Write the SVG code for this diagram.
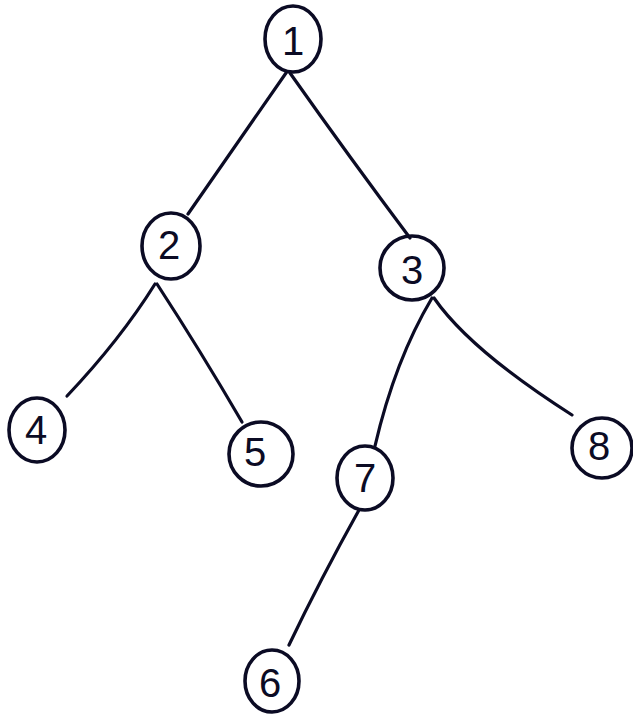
<svg xmlns="http://www.w3.org/2000/svg" width="633" height="716" viewBox="0 0 633 716">
<style>
.n{fill:none;stroke:#0b0b24;stroke-width:3.6}
.e{fill:none;stroke:#0b0b24;stroke-width:3.2;stroke-linecap:round}
.t{font-family:"Liberation Sans",Arial,sans-serif;font-size:40px;fill:#0b0b24;text-anchor:middle;dominant-baseline:central}
</style>
<rect width="633" height="716" fill="#fff"/>
<g id="connectors">
<path class="e" d="M286,73 L188,214"/>
<path class="e" d="M290,73 Q350,158 410,238"/>
<path class="e" d="M155,284 Q120,340 67,396"/>
<path class="e" d="M157,284 Q200,350 242,422"/>
<path class="e" d="M432,298 Q395,360 375,446"/>
<path class="e" d="M434,298 Q470,350 572,415"/>
<path class="e" d="M359,510 Q320,580 289,645"/>
</g>
<g id="node1"><ellipse class="n" cx="293" cy="39" rx="28" ry="33"/><text class="t" x="293" y="41">1</text></g>
<g id="node2"><ellipse class="n" cx="171" cy="246" rx="29" ry="33"/><text class="t" x="169" y="245">2</text></g>
<g id="node3"><ellipse class="n" cx="412" cy="268" rx="32" ry="32"/><text class="t" x="412" y="270">3</text></g>
<g id="node4"><ellipse class="n" cx="37" cy="430" rx="28" ry="32"/><text class="t" x="36" y="430">4</text></g>
<g id="node5"><ellipse class="n" cx="261" cy="454" rx="32" ry="32"/><text class="t" x="255" y="452">5</text></g>
<g id="node7"><ellipse class="n" cx="365" cy="478" rx="28" ry="32"/><text class="t" x="365" y="478">7</text></g>
<g id="node8"><ellipse class="n" cx="602" cy="448" rx="30" ry="30"/><text class="t" x="599" y="446">8</text></g>
<g id="node6"><ellipse class="n" cx="272" cy="681" rx="27" ry="31"/><text class="t" x="270" y="683">6</text></g>
</svg>
